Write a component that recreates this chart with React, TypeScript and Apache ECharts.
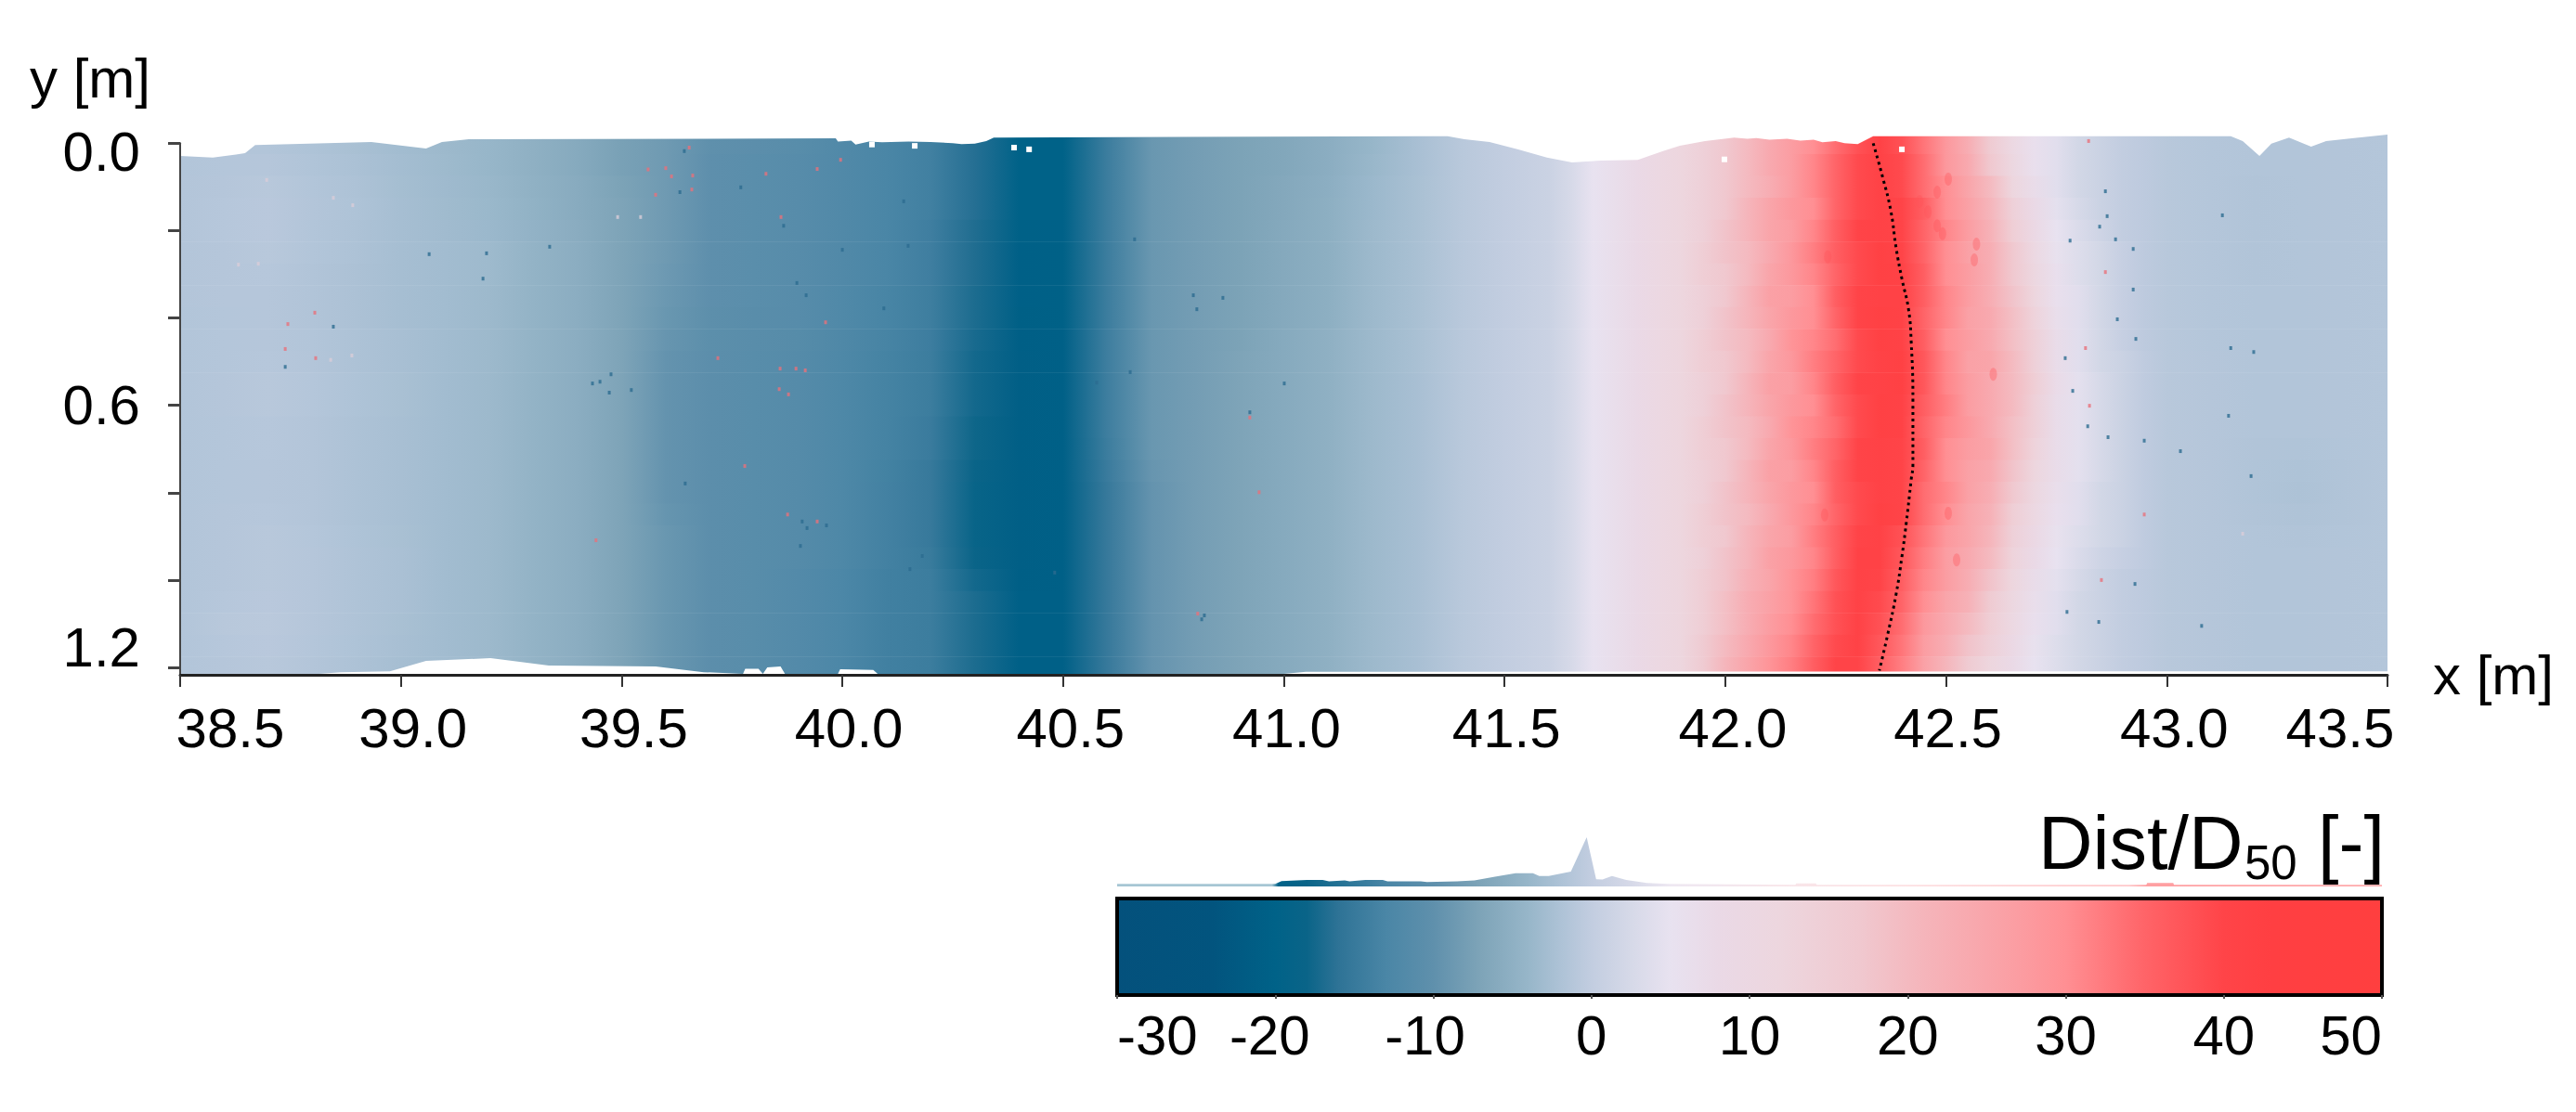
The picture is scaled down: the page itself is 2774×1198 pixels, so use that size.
import React, { useEffect, useRef } from "react";
import * as echarts from "echarts";

const FONT = '"Liberation Sans", Arial, sans-serif';

// x stations of the surface (m)
const xStations = [
  38.5, 38.6, 38.7, 38.8, 38.9, 39.0, 39.1, 39.2, 39.3, 39.4, 39.5, 39.6, 39.7, 39.8, 39.9, 40.0,
  40.1, 40.2, 40.3, 40.4, 40.5, 40.6, 40.7, 40.8, 40.9, 41.0, 41.1, 41.2, 41.3, 41.4, 41.5, 41.6,
  41.65, 41.7, 41.75, 41.8, 41.85, 41.9, 41.95, 42.0, 42.05, 42.1, 42.15, 42.2, 42.25, 42.3, 42.35, 42.4,
  42.45, 42.5, 42.55, 42.6, 42.65, 42.7, 42.75, 42.8, 42.85, 42.9, 42.95,
  43.0, 43.1, 43.2, 43.3, 43.4, 43.5,
];

// Dist/D50 read along each y row (every 0.05 m)
const r00 = [-1.6,-1.4,-1.5,-1.9,-2.4,-3,-3.5,-4,-5,-6,-7.5,-8.5,-10,-10.5,-11,-12,-13,-14,-16.5,-20,-20,-14.5,-9,-8,-7.2,-6.5,-5.5,-4,-2.5,-1,0,1, 2.5,5,6.5,8,10,12,14,17,20,24,27,30,34,38,41,38,33,28,23,16,10,6,4,2,1,0,-0.5, -1,-1.3,-1.5,-1.5,-1.4,-1.3];
const r01 = [-1.5,-1.3,-1.2,-1.7,-2.2,-2.8,-3.4,-4,-5,-6,-7.5,-8.5,-10.2,-10.7,-11.2,-12,-13,-14,-16.5,-20,-20,-14.5,-9,-8,-7.2,-6.5,-5.5,-3.8,-2.5,-1,0,1, 2.5,5,6.5,8,10,12,14,17,20,24,27,31,35,39,41,39,34,28,24,17,11,6,4,2,1,0,-0.5, -1,-1.3,-1.5,-1.5,-1.4,-1.3];
const r02 = [-1.4,-1.2,-1,-1.5,-2,-2.7,-3.3,-3.8,-4.8,-5.8,-7.2,-8.5,-10.2,-10.7,-11.2,-12,-13,-14,-16.5,-20,-20,-14.5,-9,-8,-7.2,-6.3,-5.3,-3.6,-2.4,-1,0,1, 2.5,5,6.5,8,10,12,14,17,20,23,27,31,35,39,41,39,34,30,25,20,12,7,4,2,1,0,-0.5, -1,-1.3,-1.6,-1.5,-1.4,-1.3];
const r03 = [-1.4,-1.1,-0.9,-1.4,-1.9,-2.6,-3.2,-3.7,-4.7,-5.8,-7,-8.5,-10.2,-10.7,-11.2,-12,-13,-14,-16.5,-20,-20,-14.5,-9,-8,-7.2,-6.3,-5.2,-3.6,-2.4,-1,0,1, 2.5,5,6.5,8,10,12,14,17,21,25,28,30,35,39,41,40,36,30,26,21,14,8,4.5,2.5,1,0,-0.5, -1,-1.3,-1.6,-1.5,-1.4,-1.3];
const r04 = [-1.4,-1.1,-0.9,-1.5,-2,-2.6,-3.1,-3.6,-4.6,-5.6,-7,-8.5,-10.2,-10.7,-11.2,-12,-13,-14.2,-16.8,-20.3,-20.2,-14.5,-9,-8,-7.2,-6.2,-5.2,-3.5,-2.4,-1,0,1, 2.5,5,6.5,8,10,12,14,18,21,25,27,31,36,40,41,40,35,31,27,22,15,9,5,3,1.5,0,-0.5, -1,-1.3,-1.6,-1.5,-1.4,-1.3];
const r05 = [-1.4,-1.2,-1,-1.5,-2,-2.6,-3,-3.4,-4.5,-5.5,-7,-8.5,-10.2,-10.7,-11.2,-12,-13,-14.2,-16.8,-20.5,-20.3,-14.5,-9,-8,-7.2,-6.2,-5.2,-3.5,-2.4,-1,0,1, 2.5,5,6.5,8,10,12,15,18,20,24,28,32,36,39,42,40,35,30,26,23,17,10,5.5,3.5,2,0.5,-0.5, -1,-1.3,-1.6,-1.5,-1.4,-1.3];
const r06 = [-1.4,-1.2,-1.1,-1.6,-2.1,-2.6,-3,-3.4,-4.5,-5.5,-7,-8.6,-10.2,-10.7,-11.2,-12,-13,-14.2,-16.8,-20.5,-20.3,-14.5,-9,-8,-7.2,-6.2,-5.2,-3.5,-2.4,-1,0,1, 2.5,5,6.5,8,10,12,15,17,20,25,28,31,35,39,42,41,36,30,27,23,17,11,6,3.5,2,0.5,-0.5, -1,-1.3,-1.6,-1.5,-1.4,-1.3];
const r07 = [-1.4,-1.2,-1.2,-1.6,-2.1,-2.6,-3,-3.5,-4.5,-5.5,-7,-8.8,-10.2,-10.7,-11.2,-12.2,-13.2,-14.3,-17,-20.5,-20.3,-14.5,-9,-8,-7.2,-6.2,-5.2,-3.5,-2.4,-1,0,1, 2.5,5,6.5,8,10,12,14,17,21,26,27,30,36,40,41,41,36,31,27,23,18,12,6,4,2,0.5,-0.5, -1,-1.3,-1.5,-1.5,-1.4,-1.3];
const r08 = [-1.5,-1.3,-1.2,-1.6,-2.1,-2.6,-3,-3.5,-4.5,-5.5,-7,-9,-10.3,-10.8,-11.2,-12.2,-13.2,-14.3,-17,-20.7,-20.4,-14.5,-9,-8,-7.2,-6.2,-5.2,-3.5,-2.4,-1,0,1, 2.5,5,6.5,8,10,12,14,18,21,25,28,30,35,40,42,41,35,31,26,24,19,13,6.5,4,2,0.5,-0.5, -1,-1.3,-1.5,-1.5,-1.4,-1.3];
const r09 = [-1.5,-1.3,-1.2,-1.5,-2,-2.5,-3,-3.5,-4.5,-5.5,-7,-9.2,-10.4,-10.9,-11.3,-12.3,-13.3,-14.4,-17.2,-20.8,-20.5,-14.3,-9,-8,-7.2,-6,-5,-3.5,-2.4,-1,0,1, 2.5,5,6.5,8,10,12,15,18,20,24,29,31,34,39,42,41,36,30,27,24,19,14,7,4,2,0.5,-0.5, -1,-1.3,-1.5,-1.5,-1.4,-1.3];
const r10 = [-1.5,-1.3,-1.1,-1.4,-2,-2.5,-3,-3.5,-4.5,-5.5,-7,-9.5,-10.5,-11,-11.5,-12.5,-13.5,-14.5,-17.5,-21,-20.5,-14.3,-9,-8,-7,-6,-5,-3.5,-2.4,-1,0,1, 2.5,5,6.5,8,10,12,15,17,20,25,28,32,35,39,41,42,37,31,26,25,20,14,7,4,2,1,-0.3, -1,-1.2,-1.5,-1.5,-1.4,-1.3];
const r11 = [-1.5,-1.2,-1,-1.3,-1.9,-2.4,-3,-3.5,-4.5,-5.5,-7,-9.5,-10.5,-11,-11.5,-12.5,-13.5,-14.5,-17.5,-21,-20.5,-14.3,-9,-8,-7,-6,-5,-3.5,-2.5,-1,0,1, 2.5,5,6.5,8,10,12,14,17,21,26,27,31,36,40,41,42,37,31,27,24,20,15,7.5,4.5,2.5,1,-0.3, -1,-1.2,-1.5,-1.5,-1.4,-1.3];
const r12 = [-1.5,-1.2,-1,-1.3,-1.9,-2.4,-3,-3.5,-4.5,-5.5,-7,-9.5,-10.5,-11,-11.5,-12.5,-13.5,-14.5,-17.5,-21,-20.5,-14.3,-9,-8,-7,-6,-5,-3.5,-2.5,-1,0,1, 2.5,5,6.5,8,10,12,14,18,21,25,28,30,35,39,42,41,36,32,27,24,20,14,7,4.5,2.5,1,-0.3, -1,-1.2,-1.5,-1.5,-1.4,-1.3];
const r13 = [-1.5,-1.3,-1.1,-1.4,-2,-2.5,-3,-3.5,-4.5,-5.5,-7,-9.5,-10.5,-11,-11.5,-12.5,-13.5,-14.7,-17.8,-21,-20.5,-14.3,-9,-8,-7,-6,-5,-3.5,-2.5,-1,0,1, 2.5,5,6.5,8,10,12,15,18,20,24,29,31,34,39,42,41,35,31,28,24,19,14,7,4.5,2.5,1,-0.3, -1,-1.2,-1.5,-1.5,-1.4,-1.3];
const r14 = [-1.5,-1.3,-1.1,-1.4,-2,-2.5,-3,-3.5,-4.5,-5.5,-7,-9.5,-10.5,-11,-11.5,-12.5,-13.5,-14.7,-17.8,-21,-20.5,-14.5,-9,-8,-7,-6,-5,-3.5,-2.5,-1,0,1, 2.5,5,6.5,8,10,12,15,17,20,25,28,32,35,40,41,40,36,30,27,25,19,13,7,4.5,2.5,1,-0.3, -1,-1.2,-1.6,-1.7,-1.5,-1.3];
const r15 = [-1.5,-1.3,-1.2,-1.4,-2,-2.5,-3,-3.5,-4.5,-5.5,-7,-9.5,-10.5,-11,-11.5,-12.5,-13.7,-15,-18,-21,-20.5,-14.7,-9.2,-8,-7,-6,-5,-3.5,-2.5,-1,0,1, 2.5,5,6.5,8,10,12,14,17,21,26,27,31,36,40,41,40,35,30,26,24,18,12,7,4.5,2.5,1,-0.3, -1,-1.2,-1.7,-1.9,-1.6,-1.3];
const r16 = [-1.5,-1.3,-1.2,-1.4,-2,-2.5,-3,-3.5,-4.5,-5.5,-7,-9.5,-10.5,-11,-11.5,-12.5,-13.8,-15,-18.5,-21,-20.5,-15,-9.5,-8,-7,-6,-5,-3.5,-2.5,-1,0,1, 2.5,5,6.5,8,10,12,14,18,21,25,28,30,36,39,41,40,34,31,26,23,17,11,6.5,4,2,1,-0.3, -1,-1.2,-1.7,-2,-1.6,-1.3];
const r17 = [-1.5,-1.2,-1.1,-1.4,-2,-2.5,-3,-3.5,-4.5,-5.5,-7,-9.3,-10.5,-11,-11.5,-12.5,-13.8,-15,-18.5,-21,-20.5,-15,-9.5,-8,-7,-6,-5,-3.5,-2.5,-1,0,1, 2.5,5,6.5,8,10,12,15,18,20,24,28,31,35,39,42,40,34,30,25,22,15,10,6,4,2,1,-0.3, -1,-1.2,-1.6,-1.8,-1.6,-1.3];
const r18 = [-1.5,-1.2,-1,-1.3,-1.9,-2.4,-3,-3.5,-4.5,-5.5,-7,-9,-10.5,-11,-11.5,-12.5,-13.8,-15,-18.5,-21,-20.5,-15,-9.5,-8,-7,-6,-5,-3.5,-2.5,-1,0,1, 2.5,5,6.5,8,10,12,15,17,21,25,27,32,36,40,41,38,33,28,25,21,14,9,5.5,3.5,2,1,-0.3, -1,-1.2,-1.5,-1.6,-1.5,-1.3];
const r19 = [-1.5,-1.2,-1,-1.2,-1.8,-2.3,-3,-3.5,-4.5,-5.5,-7,-9,-10.5,-11,-11.5,-12.5,-13.8,-14.8,-18,-21,-20.5,-15,-9.5,-8,-7,-6,-5,-3.5,-2.5,-1,0,1, 2.5,5,6.5,8,10,12,14,18,21,26,28,31,36,41,41,37,32,27,24,20,13,8,5,3,1.5,0.5,-0.3, -1,-1.2,-1.5,-1.5,-1.4,-1.3];
const r20 = [-1.5,-1.2,-1,-1.2,-1.8,-2.3,-3,-3.5,-4.5,-5.5,-7,-9,-10.5,-11,-11.7,-12.7,-14,-14.5,-17.5,-20.8,-20.5,-15,-9.5,-8,-7,-6,-5,-3.5,-2.5,-1,0,1, 2.5,5,6.5,8,10,12,15,18,22,25,29,32,37,41,40,36,31,27,23,18,12,7,4.5,2.5,1,0,-0.5, -1,-1.2,-1.5,-1.5,-1.4,-1.3];
const r21 = [-1.5,-1.1,-0.9,-1.2,-1.8,-2.3,-3,-3.5,-4.5,-5.5,-7,-9,-10.5,-11,-11.7,-12.7,-14,-14.5,-17,-20.5,-20.5,-15,-9.5,-8,-7,-6,-5,-3.5,-2.5,-1,0,1, 2.5,5,6.5,8,10,12,15,19,23,26,29,33,38,41,39,35,30,25,22,16,11,6.5,4,2,1,0,-0.5, -1,-1.2,-1.5,-1.5,-1.4,-1.3];
const r22 = [-1.5,-1,-0.8,-1.2,-1.8,-2.4,-3,-3.5,-4.5,-5.5,-7,-9,-10.5,-11,-11.7,-12.7,-14,-14.5,-17,-20.5,-20.5,-15,-9.5,-8,-7,-6,-5,-3.5,-2.5,-1,0,1, 2.5,5,6.5,8,10,12,15,19,23,27,30,34,38,41,38,34,28,24,20,15,10,6,4,2,1,0,-0.5, -1,-1.2,-1.5,-1.5,-1.4,-1.3];
const r23 = [-1.5,-1.1,-0.9,-1.3,-1.9,-2.5,-3,-3.5,-4.5,-5.5,-7,-9,-10.5,-11,-11.7,-12.7,-14,-14.5,-17,-20.5,-20.5,-15,-9.5,-8,-7,-6,-5,-3.5,-2.5,-1,0,1, 2.5,5,6.5,8,10,12,16,20,24,28,31,35,39,41,37,33,27,23,18,14,9,5.5,3.5,2,1,0,-0.5, -1,-1.2,-1.5,-1.5,-1.4,-1.3];
const r24 = [-1.5,-1.2,-1,-1.4,-2,-2.6,-3,-3.5,-4.5,-5.5,-7,-9,-10.5,-11,-11.7,-12.7,-14,-14.5,-17,-20.5,-20.5,-15,-9.5,-8,-7,-6,-5,-3.5,-2.5,-1,0,1, 2.5,5,6.5,8,10,12,16,21,25,29,32,36,40,40,36,32,26,21,16,12,8,5,3.5,2,1,0,-0.5, -1,-1.2,-1.5,-1.5,-1.4,-1.3];
const fieldRows = [r00,r01,r02,r03,r04,r05,r06,r07,r08,r09,r10,r11,r12,r13,r14,r15,r16,r17,r18,r19,r20,r21,r22,r23,r24];
const yStations = fieldRows.map((_, i) => i * 0.05);

// outline of the scanned surface
const topEdgeX = [38.5,38.574,38.647,38.67,38.933,39.057,39.093,39.154,39.985,39.99,40.02,40.03,40.06,40.09,40.15,40.2,40.25,40.27,40.3,40.326,40.343,41.371,41.409,41.466,41.531,41.596,41.653,41.718,41.802,41.859,41.897,41.954,42.02,42.05,42.07,42.1,42.14,42.17,42.2,42.22,42.25,42.27,42.3,42.335,42.505,43.145,43.172,43.21,43.237,43.277,43.327,43.361,43.5];
const topEdgeY = [0.029,0.033,0.023,0.004,-0.003,0.012,-0.003,-0.009,-0.011,-0.004,-0.006,0.003,-0.004,-0.002,-0.004,-0.003,0,0.002,0.001,-0.005,-0.013,-0.016,-0.009,-0.003,0.014,0.033,0.044,0.04,0.038,0.018,0.006,-0.005,-0.013,-0.01,-0.012,-0.008,-0.01,-0.006,-0.008,-0.002,-0.005,0,0.002,-0.016,-0.016,-0.016,-0.005,0.029,0.001,-0.013,0.008,-0.005,-0.02];
const bottomEdgeX = [38.5,38.786,38.864,38.975,39.057,39.203,39.335,39.577,39.686,39.775,39.78,39.81,39.82,39.83,39.86,39.87,39.99,39.995,40.07,40.08,41.0,41.05,43.5];
const bottomEdgeY = [1.217,1.217,1.211,1.209,1.185,1.179,1.196,1.198,1.211,1.215,1.203,1.203,1.215,1.2,1.198,1.215,1.215,1.204,1.206,1.215,1.215,1.21,1.209];

// dotted line
const curveX = [42.335,42.356,42.375,42.387,42.4,42.415,42.421,42.425,42.425,42.421,42.41,42.4,42.387,42.368,42.349];
const curveY = [0,0.076,0.155,0.24,0.31,0.38,0.452,0.592,0.735,0.771,0.869,0.947,1.032,1.124,1.207];

// isolated points
const specksRed = [[39.653,0.01],[39.56,0.06],[39.6,0.057],[39.613,0.076],[39.661,0.074],[39.659,0.106],[39.577,0.118],[39.827,0.07],[39.996,0.038],[39.943,0.059],[39.861,0.169],[39.718,0.492],[39.859,0.516],[39.895,0.516],[39.916,0.52],[39.857,0.563],[39.878,0.575],[39.962,0.41],[39.779,0.739],[39.876,0.85],[39.943,0.866],[39.442,0.909],[40.923,0.628],[40.944,0.799],[40.805,1.077],[38.805,0.388],[38.738,0.471],[38.807,0.492],[38.744,0.414],[42.816,0.469],[42.825,0.601],[42.861,0.295],[42.823,-0.005],[42.949,0.85],[42.852,1.0]];
const specksDark = [[39.642,0.018],[39.632,0.112],[39.77,0.101],[39.867,0.189],[40.0,0.244],[39.897,0.32],[39.918,0.348],[40.139,0.133],[40.149,0.235],[40.094,0.378],[40.662,0.22],[40.795,0.348],[40.862,0.354],[40.803,0.38],[40.652,0.524],[40.576,0.548],[41.001,0.55],[39.451,0.546],[39.476,0.529],[39.522,0.565],[39.472,0.571],[39.434,0.55],[39.064,0.254],[39.194,0.252],[39.337,0.237],[39.186,0.31],[38.847,0.42],[38.738,0.512],[39.909,0.866],[39.92,0.881],[39.964,0.875],[39.905,0.922],[40.181,0.945],[40.153,0.975],[40.481,0.983],[40.923,0.616],[40.82,1.081],[40.814,1.09],[39.644,0.779],[42.781,0.223],[43.126,0.165],[42.884,0.22],[42.924,0.242],[42.861,0.11],[42.924,0.335],[42.888,0.403],[42.93,0.448],[42.77,0.492],[43.145,0.469],[43.197,0.478],[42.787,0.567],[43.14,0.624],[42.821,0.648],[42.867,0.673],[42.949,0.681],[43.031,0.705],[42.865,0.167],[42.848,0.191],[42.774,1.073],[42.846,1.096],[43.079,1.105],[42.928,1.009],[43.191,0.762]];
const specksPale = [[39.491,0.169],[39.543,0.169],[38.677,0.276],[38.632,0.278],[38.696,0.084],[38.847,0.125],[38.891,0.142],[38.841,0.496],[38.889,0.486],[43.172,0.894]];
const specksWhite = [[40.067,0.003],[40.164,0.006],[40.389,0.01],[40.423,0.014],[42.4,0.014],[41.998,0.037]];
const blotchesRed = [[42.44,0.133],[42.459,0.157],[42.48,0.189],[42.492,0.207],[42.505,0.082],[42.48,0.112],[42.232,0.26],[42.564,0.267],[42.569,0.231],[42.607,0.529],[42.225,0.851],[42.505,0.847],[42.524,0.954]];

// colour scale
const scaleValues = [-30,-24,-20,-18,-16,-13,-10,-7,-4,-2,0,2.5,5,8,12,17,21,27,30,35,40,43,50];
const scaleColors = ["#04517c","#02547e","#006288","#0a6488","#2e7396","#4a86a6","#5f90ac","#7ea4b8","#97b6c9","#adc2d6","#c2cde0","#d6d9e8","#e8e2f0","#ead9e6","#edd6de","#f0c8cf","#f5b5bb","#fb9da2","#ff8f93","#ff6468","#ff4448","#ff3f42","#ff3f3f"];

// histogram above the colour bar
const histX = [-30,-20,-19.6,-18,-17,-16.6,-15.6,-15.3,-14.3,-13.2,-12.9,-10.8,-10.4,-8.5,-7.4,-6.1,-4.8,-3.7,-3.3,-2.7,-1.3,-0.3,0.3,0.7,1.3,2.2,3.5,4.9,12.9,12.95,14.2,14.25,35.1,35.15,36.8,36.85,50];
const histY = [0.05,0.05,0.107,0.132,0.132,0.105,0.125,0.105,0.132,0.132,0.105,0.105,0.09,0.105,0.125,0.2,0.27,0.27,0.21,0.21,0.3,1,0.145,0.14,0.21,0.13,0.07,0.05,0.035,0.06,0.06,0.035,0.035,0.07,0.07,0.035,0.035];
const histStopValues = [-30,-20.2,-19.8,-18,-13,-10,-7,-4,-2,0,2.5,5,12,20,34,35.1,36.8,50];
const histStopColors = ["#a6c6d4","#a6c6d4","#006288","#0a6488","#4a86a6","#5f90ac","#7ea4b8","#97b6c9","#adc2d6","#c2cde0","#d6d9e8","#eee8f2","#f8e6ea","#fde0e2","#ffc8ca","#ffa0a2","#ffa0a2","#ffaaac"];

const xLabelShift = [54,13,13,7,8,3,2,8,2,8,-51];
const yMinorTicks = [0,0.2,0.4,0.6,0.8,1.0,1.2];
const yLabels = [0,0.6,1.2];

function colorOf(v: number): string {
  if (v <= scaleValues[0]) return scaleColors[0];
  for (let i = 1; i < scaleValues.length; i++) {
    if (v <= scaleValues[i]) {
      const t = (v - scaleValues[i - 1]) / (scaleValues[i] - scaleValues[i - 1]);
      const a = echarts.color.parse(scaleColors[i - 1]);
      const b = echarts.color.parse(scaleColors[i]);
      return `rgb(${[0, 1, 2].map((k) => Math.round(a[k] + (b[k] - a[k]) * t)).join(",")})`;
    }
  }
  return scaleColors[scaleColors.length - 1];
}

const X0 = xStations[0];
const X1 = xStations[xStations.length - 1];
const Y_MAX = 1.217;
const scaleStops = scaleValues.map((v, i) => ({ offset: (v + 30) / 80, color: scaleColors[i] }));
const histStops = histStopValues.map((v, i) => ({ offset: (v + 30) / 80, color: histStopColors[i] }));

function App() {
  const ref = useRef<HTMLDivElement>(null);
  useEffect(() => {
    const chart = echarts.init(ref.current!, undefined, { renderer: "svg" });
    const labelStyle = { fontFamily: FONT, fontSize: 60, color: "#000" };
    const hidden = { show: false };
    const rowStops = fieldRows.map((row) =>
      row.map((v, i) => ({ offset: (xStations[i] - X0) / (X1 - X0), color: colorOf(v) }))
    );
    const speck = (data: number[][], color: string, w = 3, h = 4, opacity = 0.8, symbol = "rect") => ({
      type: "scatter", xAxisIndex: 0, yAxisIndex: 0, data, symbol, symbolSize: [w, h],
      itemStyle: { color, opacity }, silent: true, z: 4, clip: false,
    });
    const whitePolygon = (xs: number[], ys: number[], closeY: number) => ({
      type: "custom", xAxisIndex: 0, yAxisIndex: 0, silent: true, z: 3, clip: false,
      data: [[xs[0], ys[0]]], encode: { x: 0, y: 1 },
      renderItem: (_: any, api: any) => ({
        type: "polygon",
        shape: {
          points: [
            api.coord([X0 - 0.002, closeY]),
            ...xs.map((x, i) => api.coord([x, ys[i]])),
            api.coord([X1 + 0.02, ys[ys.length - 1]]),
            api.coord([X1 + 0.02, closeY]),
          ],
        },
        style: { fill: "#fff" },
      }),
    });
    const xRich: any = {};
    xLabelShift.forEach((s, i) => {
      xRich["s" + i] = {
        ...labelStyle,
        padding: s >= 0 ? [0, 0, 0, s * 2] : [0, -s * 2, 0, 0],
      };
    });
    chart.setOption({
      animation: false,
      backgroundColor: "#fff",
      grid: [
        { left: 194, top: 154.3, width: 2377, height: 572.7 },
        { left: 1203, top: 968, width: 1362, height: 104 },
        { left: 1203, top: 902, width: 1362, height: 53 },
      ],
      xAxis: [
        {
          gridIndex: 0, type: "value", min: X0, max: X1, interval: 0.5, z: 10, splitLine: hidden,
          axisLine: { onZero: false, lineStyle: { color: "#222", width: 3 } },
          axisTick: { length: 13, lineStyle: { color: "#333", width: 2 } },
          axisLabel: {
            ...labelStyle, margin: 27, showMinLabel: true, showMaxLabel: true, hideOverlap: false,
            formatter: (v: number) => `{s${Math.round((v - X0) / 0.5)}|${v.toFixed(1)}}`,
            rich: xRich,
          },
          name: "x [m]", nameLocation: "end", nameGap: 49,
          nameTextStyle: { ...labelStyle, padding: [106, 0, 0, 0], verticalAlign: "middle" },
        },
        {
          gridIndex: 1, type: "value", min: -30, max: 50, interval: 10, z: 10, splitLine: hidden,
          axisLine: { show: false },
          axisTick: { length: 4, lineStyle: { color: "#555", width: 2 } },
          axisLabel: {
            ...labelStyle, margin: 13, showMinLabel: true, showMaxLabel: true, hideOverlap: false,
            alignMinLabel: "left", alignMaxLabel: "right",
            formatter: (v: number) => (v === -20 ? "{a|-20}" : v === -10 ? "{b|-10}" : String(v)),
            rich: {
              a: { ...labelStyle, padding: [0, 12, 0, 0] },
              b: { ...labelStyle, padding: [0, 18, 0, 0] },
            },
          },
        },
        { gridIndex: 2, type: "value", min: -30, max: 50, show: false },
      ],
      yAxis: [
        {
          gridIndex: 0, type: "value", inverse: true, min: 0, max: Y_MAX, z: 10, splitLine: hidden,
          axisLine: { onZero: false, lineStyle: { color: "#444", width: 2 } },
          axisTick: { length: 13, customValues: yMinorTicks, lineStyle: { color: "#444", width: 3 } },
          axisLabel: {
            ...labelStyle, margin: 43, customValues: yLabels,
            formatter: (v: number) => (v === 0 ? "{top|0.0}" : v > 1 ? "{bot|1.2}" : "{mid|0.6}"),
            rich: {
              top: { ...labelStyle, padding: [18, 0, 0, 0] },
              mid: { ...labelStyle },
              bot: { ...labelStyle, padding: [0, 0, 44, 0] },
            },
          },
          name: "y [m]", nameLocation: "start", nameGap: 40,
          nameTextStyle: { ...labelStyle, padding: [0, 194, 0, 0] },
        },
        { gridIndex: 1, type: "value", min: 0, max: 1, show: false },
        { gridIndex: 2, type: "value", min: 0, max: 1, show: false },
      ],
      series: [
        {
          type: "custom", xAxisIndex: 0, yAxisIndex: 0, silent: true, z: 2, clip: false,
          data: yStations.map((y) => [X0, y]), encode: { x: 0, y: 1 },
          renderItem: (params: any, api: any) => {
            const i = params.dataIndex;
            const y0 = i === 0 ? -0.03 : yStations[i] - 0.025;
            const y1 = Math.min(Y_MAX, yStations[i] + 0.026);
            const a = api.coord([X0, y0]);
            const b = api.coord([X1, y1]);
            return {
              type: "rect",
              shape: { x: a[0], y: a[1], width: b[0] - a[0], height: b[1] - a[1] },
              style: { fill: new echarts.graphic.LinearGradient(0, 0, 1, 0, rowStops[i]) },
            };
          },
        },
        speck(blotchesRed, "#ff5358", 8, 14, 0.35, "circle"),
        whitePolygon(topEdgeX, topEdgeY, -0.045),
        whitePolygon(bottomEdgeX, bottomEdgeY, Y_MAX),
        speck(specksPale, "#d9cdd8"),
        speck(specksDark, "#2c6c90"),
        speck(specksRed, "#e8707a"),
        speck(specksWhite, "#ffffff", 6, 6, 1),
        {
          type: "line", xAxisIndex: 0, yAxisIndex: 0, silent: true, z: 5, symbol: "none", smooth: true,
          data: curveX.map((x, i) => [x, curveY[i]]),
          lineStyle: { color: "#000", width: 3, type: [3, 4] },
        },
        {
          type: "custom", xAxisIndex: 1, yAxisIndex: 1, silent: true, z: 2, clip: false,
          data: [[-30, 0]], encode: { x: 0, y: 1 },
          renderItem: (_: any, api: any) => {
            const a = api.coord([-30, 1]);
            const b = api.coord([50, 0]);
            return {
              type: "rect",
              shape: { x: a[0], y: a[1], width: b[0] - a[0], height: b[1] - a[1] },
              style: {
                fill: new echarts.graphic.LinearGradient(0, 0, 1, 0, scaleStops),
                stroke: "#000", lineWidth: 4,
              },
            };
          },
        },
        {
          type: "line", xAxisIndex: 2, yAxisIndex: 2, silent: true, symbol: "none",
          data: histX.map((x, i) => [x, histY[i]]),
          lineStyle: { width: 0 },
          areaStyle: { opacity: 1, color: new echarts.graphic.LinearGradient(0, 0, 1, 0, histStops) },
        },
      ],
      graphic: [
        { type: "text", silent: true, style: { x: 2195, y: 948, text: "Dist/D", fontFamily: FONT, fontSize: 81, fill: "#000", textAlign: "left", textVerticalAlign: "bottom" } },
        { type: "text", silent: true, style: { x: 2417, y: 955, text: "50", fontFamily: FONT, fontSize: 51, fill: "#000", textAlign: "left", textVerticalAlign: "bottom" } },
        { type: "text", silent: true, style: { x: 2568, y: 948, text: "[-]", fontFamily: FONT, fontSize: 81, fill: "#000", textAlign: "right", textVerticalAlign: "bottom" } },
      ],
    });
    return () => chart.dispose();
  }, []);
  return (
    <div
      ref={ref}
      style={{ position: "absolute", left: 0, top: 0, width: 2774, height: 1198, background: "#fff" }}
    />
  );
}

export default App;
